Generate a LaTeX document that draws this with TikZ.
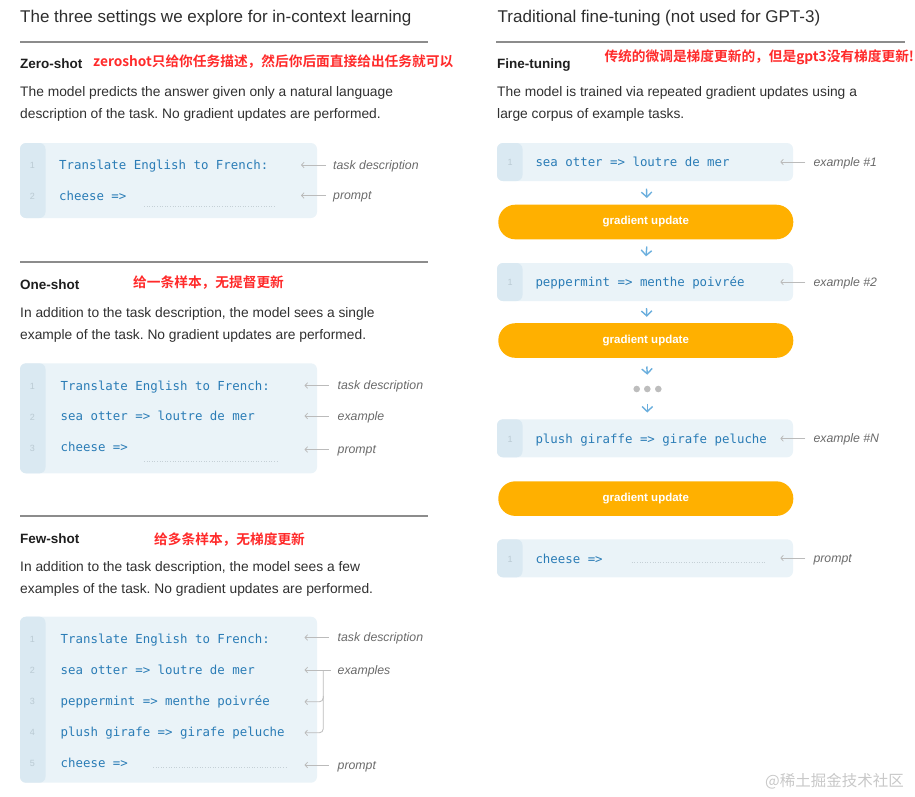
\documentclass[tikz,border=0pt]{standalone}
\usepackage{fontspec}
\setmainfont{Liberation Sans}
\newfontfamily\monof{DejaVu Sans Mono}
\newfontfamily\cjkf{Noto Sans CJK SC}[BoldFont={Noto Sans CJK SC Bold}]
\usetikzlibrary{arrows.meta,calc}
\frenchspacing
\definecolor{ttlc}{HTML}{2E2E2E}
\definecolor{bodyc}{HTML}{303030}
\definecolor{hdc}{HTML}{1E1E1E}
\definecolor{rulec}{HTML}{8C8C8C}
\definecolor{redc}{HTML}{FF2A2A}
\definecolor{codec}{HTML}{2A7CB6}
\definecolor{boxfill}{HTML}{EAF3F8}
\definecolor{gutfill}{HTML}{DAE9F2}
\definecolor{numc}{HTML}{BACAD3}
\definecolor{annc}{HTML}{6A6A6A}
\definecolor{annarc}{HTML}{BBBBBB}
\definecolor{orangec}{HTML}{FFB000}
\definecolor{downc}{HTML}{6AAEDD}
\definecolor{dotc}{HTML}{BDBDBD}
\definecolor{dotlc}{HTML}{C5D0D6}
\definecolor{wmc}{HTML}{C8C8C8}
\tikzset{
  ttl/.style={anchor=base west, inner sep=0, text=ttlc, font=\fontsize{17}{20}\selectfont},
  hd/.style={anchor=base west, inner sep=0, text=hdc, font=\bfseries\fontsize{13.5}{16}\selectfont},
  bd/.style={anchor=base west, inner sep=0, text=bodyc, font=\fontsize{13.8}{16}\selectfont},
  redt/.style={anchor=base west, inner sep=0, text=redc, font=\cjkf\bfseries\fontsize{13.7}{16}\selectfont},
  code/.style={anchor=base west, inner sep=0, text=codec, font=\monof\fontsize{12.4}{14}\selectfont},
  num/.style={anchor=base, inner sep=0, text=numc, font=\fontsize{9}{10}\selectfont},
  ann/.style={anchor=base west, inner sep=0, text=annc, font=\itshape\fontsize{12.3}{14}\selectfont},
  cbox/.style={rectangle, rounded corners=6pt, fill=boxfill, inner sep=0,
    path picture={\fill[gutfill] (path picture bounding box.north west) rectangle ([xshift=25.5pt]path picture bounding box.south west);}},
  pill/.style={rectangle, rounded corners=17pt, fill=orangec, inner sep=0, minimum width=295pt, minimum height=34.6pt,
    text=white, font=\bfseries\fontsize{11.5}{13}\selectfont},
  rulel/.style={draw=rulec, line width=2pt},
  annarr/.style={draw=annarc, line width=0.8pt, -{Straight Barb[length=2.5pt,width=5.5pt]}},
  downarr/.style={draw=downc, line width=1.4pt, -{Straight Barb[length=5pt,width=10.5pt]}},
  dotl/.style={draw=dotlc, line width=0.8pt, dash pattern=on 1pt off 1.6pt},
}
\begin{document}
\begin{tikzpicture}[x=1pt,y=-1pt]
\useasboundingbox (0,0) rectangle (915,796);
% ---------------- left column ----------------
\node[ttl] (t1) at (20,22.5) {The three settings we explore for in-context learning};
\draw[rulel] (20,42) -- (428,42);
% Zero-shot
\node[hd] (h1) at (20,68.5) {Zero-shot};
\node[redt] (r1) at (93,66) {zeroshot只给你任务描述，然后你后面直接给出任务就可以};
\node[bd] (d1a) at (20,96.5) {The model predicts the answer given only a natural language};
\node[bd] (d1b) at (20,118.5) {description of the task. No gradient updates are performed.};
\node[cbox, minimum width=297pt, minimum height=75pt] (zb) at (168.5,180.5) {};
\node[num] (zn1) at (32.5,168.5) {1};
\node[num] (zn2) at (32.5,199.5) {2};
\node[code] (zc1) at (59,169.5) {Translate English to French:};
\node[code] (zc2) at (59,200) {cheese =>};
\draw[dotl] (144,206) -- (275,206);
\node[ann] (za1) at (333,169) {task description};
\node[ann] (za2) at (333,199.5) {prompt};
\draw[annarr] ($(za1.base west)+(-7,-4)$) -- ($(za1.base west)+(-32,-4)$);
\draw[annarr] ($(za2.base west)+(-7,-4)$) -- ($(za2.base west)+(-32,-4)$);
% One-shot
\draw[rulel] (20,262.3) -- (428,262.3);
\node[hd] (h2) at (20,289.3) {One-shot};
\node[redt] (r2) at (133,287) {给一条样本，无提督更新};
\node[bd] (d2a) at (20,317.7) {In addition to the task description, the model sees a single};
\node[bd] (d2b) at (20,339.3) {example of the task. No gradient updates are performed.};
\node[cbox, minimum width=297pt, minimum height=110pt] (ob) at (168.5,418.3) {};
\node[num] (on1) at (32.5,389) {1};
\node[num] (on2) at (32.5,420) {2};
\node[num] (on3) at (32.5,451) {3};
\node[code] (oc1) at (60.5,390) {Translate English to French:};
\node[code] (oc2) at (60.5,420.7) {sea otter => loutre de mer};
\node[code] (oc3) at (60.5,451.7) {cheese =>};
\draw[dotl] (144,461.7) -- (278,461.7);
\node[ann] (oa1) at (337.5,389.5) {task description};
\node[ann] (oa2) at (337.5,420) {example};
\node[ann] (oa3) at (337.5,453.5) {prompt};
\draw[annarr] ($(oa1.base west)+(-9,-4)$) -- ($(oa1.base west)+(-33,-4)$);
\draw[annarr] ($(oa2.base west)+(-9,-4)$) -- ($(oa2.base west)+(-33,-4)$);
\draw[annarr] ($(oa3.base west)+(-9,-4)$) -- ($(oa3.base west)+(-33,-4)$);
% Few-shot
\draw[rulel] (20,515.7) -- (428,515.7);
\node[hd] (h3) at (20,543.3) {Few-shot};
\node[redt] (r3) at (154,544) {给多条样本，无梯度更新};
\node[bd] (d3a) at (20,571.7) {In addition to the task description, the model sees a few};
\node[bd] (d3b) at (20,593.3) {examples of the task. No gradient updates are performed.};
\node[cbox, minimum width=297pt, minimum height=166pt] (fb) at (168.5,699.7) {};
\node[num] (fn1) at (32.5,642) {1};
\node[num] (fn2) at (32.5,673) {2};
\node[num] (fn3) at (32.5,704) {3};
\node[num] (fn4) at (32.5,735) {4};
\node[num] (fn5) at (32.5,766) {5};
\node[code] (fc1) at (60.5,643.3) {Translate English to French:};
\node[code] (fc2) at (60.5,674.3) {sea otter => loutre de mer};
\node[code] (fc3) at (60.5,705.3) {peppermint => menthe poivrée};
\node[code] (fc4) at (60.5,736.3) {plush girafe => girafe peluche};
\node[code] (fc5) at (60.5,767) {cheese =>};
\draw[dotl] (153,767.7) -- (287,767.7);
\node[ann] (fa1) at (337.5,641.5) {task description};
\node[ann] (fa2) at (337.5,674) {examples};
\node[ann] (fa3) at (337.5,769) {prompt};
\draw[annarr] ($(fa1.base west)+(-9,-4)$) -- ($(fa1.base west)+(-33,-4)$);
\draw[annarr] ($(fa2.base west)+(-7,-4)$) -- ($(fa2.base west)+(-33,-4)$);
\draw[annarr] ($(fa3.base west)+(-9,-4)$) -- ($(fa3.base west)+(-33,-4)$);
\coordinate (ex) at ($(fa2.base west)+(-33,-4)$);
\coordinate (bk) at ($(fa2.base west)+(-14.2,-4)$);
\coordinate (y3) at ($(fc3.base)+(0,-3.5)$);
\coordinate (y4) at ($(fc4.base)+(0,-3.5)$);
\draw[annarr, rounded corners=4pt] (bk) |- (ex |- y4);
\draw[annarr, rounded corners=4pt] ($(bk |- y3)+(0,-6)$) |- (ex |- y3);
% ---------------- right column ----------------
\node[ttl] (t2) at (497.5,22.5) {Traditional fine-tuning (not used for GPT-3)};
\draw[rulel] (496,41.7) -- (905,41.7);
\node[hd] (h4) at (497,68.5) {Fine-tuning};
\node[redt] (r4) at (604.3,61.5) {传统的微调是梯度更新的，但是gpt3没有梯度更新!};
\node[bd] (d4a) at (497,96.7) {The model is trained via repeated gradient updates using a};
\node[bd] (d4b) at (497,118.3) {large corpus of example tasks.};
% example 1
\node[cbox, minimum width=296pt, minimum height=38pt] (b1) at (645,162) {};
\node[num] (bn1) at (510,165.5) {1};
\node[code] (bc1) at (535.3,166.7) {sea otter => loutre de mer};
\node[ann] (ba1) at (813.3,166) {example \#1};
\draw[annarr] ($(ba1.base west)+(-8,-4)$) -- ($(ba1.base west)+(-33,-4)$);
\node[pill] (p1) at (645.8,222) {gradient update};
% example 2
\node[cbox, minimum width=296pt, minimum height=38pt] (b2) at (645,282) {};
\node[num] (bn2) at (510,285.5) {1};
\node[code] (bc2) at (535.3,286.7) {peppermint => menthe poivrée};
\node[ann] (ba2) at (813.3,286) {example \#2};
\draw[annarr] ($(ba2.base west)+(-8,-4)$) -- ($(ba2.base west)+(-33,-4)$);
\node[pill] (p2) at (645.8,340.5) {gradient update};
% dots
\coordinate (dots) at (647.3,389);
\fill[dotc] ($(dots)+(-10.6,0)$) circle (3.3pt);
\fill[dotc] (dots) circle (3.3pt);
\fill[dotc] ($(dots)+(11,0)$) circle (3.3pt);
% example N
\node[cbox, minimum width=296pt, minimum height=38pt] (b3) at (645,438.3) {};
\node[num] (bn3) at (510,442) {1};
\node[code] (bc3) at (535.3,443.3) {plush giraffe => girafe peluche};
\node[ann] (ba3) at (813.3,442.5) {example \#N};
\draw[annarr] ($(ba3.base west)+(-8,-4)$) -- ($(ba3.base west)+(-33,-4)$);
\node[pill] (p3) at (645.8,498.6) {gradient update};
% prompt
\node[cbox, minimum width=296pt, minimum height=38pt] (b4) at (645,558.3) {};
\node[num] (bn4) at (510,562) {1};
\node[code] (bc4) at (535.3,563.3) {cheese =>};
\draw[dotl] (631.7,562.7) -- (765,562.7);
\node[ann] (ba4) at (813.3,562) {prompt};
\draw[annarr] ($(ba4.base west)+(-8,-4)$) -- ($(ba4.base west)+(-33,-4)$);
% down arrows
\draw[downarr] ([xshift=1.5pt,yshift=-7.5pt]b1.south) -- ([xshift=1pt,yshift=6.5pt]p1.north);
\draw[downarr] ([xshift=1pt,yshift=-7pt]p1.south) -- ([xshift=1pt,yshift=6.5pt]b2.north);
\draw[downarr] ([xshift=1.5pt,yshift=-6.8pt]b2.south) -- ([xshift=1pt,yshift=6.2pt]p2.north);
\draw[downarr] ([xshift=1pt,yshift=-8.5pt]p2.south) -- ([yshift=14.3pt]dots);
\draw[downarr] ([yshift=-14.5pt]dots) -- ([xshift=2.3pt,yshift=6.6pt]b3.north);
% watermark
\node[anchor=base west, inner sep=0, text=wmc, font=\cjkf\fontsize{15.5}{17}\selectfont] (wm) at (765,786) {@稀土掘金技术社区};
\end{tikzpicture}
\end{document}
